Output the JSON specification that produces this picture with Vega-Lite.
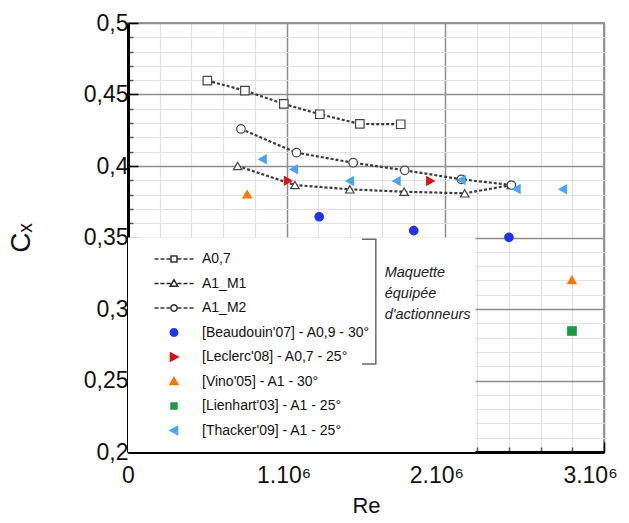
{
  "$schema": "https://vega.github.io/schema/vega-lite/v6.json",
  "width": 476,
  "height": 429,
  "autosize": {"type": "none"},
  "padding": {"left": 128, "top": 23, "right": 25, "bottom": 71},
  "background": "white",
  "config": {
    "view": {"stroke": "#9a9a9a", "strokeWidth": 2},
    "font": "Liberation Sans",
    "axis": {
      "zindex": 1,
      "labelFont": "Liberation Sans",
      "labelFontSize": 23,
      "labelColor": "#111",
      "titleFont": "Liberation Sans",
      "titleFontWeight": "normal",
      "titleColor": "#111",
      "domainColor": "#000",
      "domainWidth": 3,
      "tickWidth": 1.5,
      "labelOverlap": false,
      "labelFlush": false,
      "labelBound": false
    },
    "legend": {
      "title": null,
      "orient": "none",
      "legendX": 39,
      "legendY": 229,
      "padding": 0,
      "symbolSize": 100,
      "symbolOpacity": 1,
      "symbolStrokeWidth": 1.5,
      "labelOffset": 21,
      "labelFont": "Liberation Sans",
      "labelFontSize": 14,
      "labelColor": "#111",
      "labelLimit": 400,
      "rowPadding": 10.5
    }
  },
  "resolve": {"scale": {"shape": "independent", "fill": "independent", "stroke": "independent"}},
  "datasets": {
    "measures": [
      {"series": "A0,7", "Re": 500000, "Cx": 0.4597},
      {"series": "A0,7", "Re": 737000, "Cx": 0.4527},
      {"series": "A0,7", "Re": 982000, "Cx": 0.4434},
      {"series": "A0,7", "Re": 1209000, "Cx": 0.4362},
      {"series": "A0,7", "Re": 1461000, "Cx": 0.4294},
      {"series": "A0,7", "Re": 1719000, "Cx": 0.4292},
      {"series": "A1_M1", "Re": 691000, "Cx": 0.4},
      {"series": "A1_M1", "Re": 1052000, "Cx": 0.3867},
      {"series": "A1_M1", "Re": 1398000, "Cx": 0.3837},
      {"series": "A1_M1", "Re": 1740000, "Cx": 0.382},
      {"series": "A1_M1", "Re": 2122000, "Cx": 0.3809},
      {"series": "A1_M1", "Re": 2416000, "Cx": 0.3867},
      {"series": "A1_M2", "Re": 712000, "Cx": 0.4259},
      {"series": "A1_M2", "Re": 1062000, "Cx": 0.4093},
      {"series": "A1_M2", "Re": 1419000, "Cx": 0.4023},
      {"series": "A1_M2", "Re": 1744000, "Cx": 0.397},
      {"series": "A1_M2", "Re": 2101000, "Cx": 0.3907},
      {"series": "A1_M2", "Re": 2416000, "Cx": 0.3867},
      {"series": "[Beaudouin'07] - A0,9 - 30°", "Re": 1205000, "Cx": 0.3645},
      {"series": "[Beaudouin'07] - A0,9 - 30°", "Re": 1801000, "Cx": 0.3548},
      {"series": "[Beaudouin'07] - A0,9 - 30°", "Re": 2401000, "Cx": 0.3501},
      {"series": "[Leclerc'08] - A0,7 - 25°", "Re": 1009000, "Cx": 0.3897},
      {"series": "[Leclerc'08] - A0,7 - 25°", "Re": 1906000, "Cx": 0.3895},
      {"series": "[Vino'05] - A1 - 30°", "Re": 751000, "Cx": 0.3802},
      {"series": "[Vino'05] - A1 - 30°", "Re": 2798000, "Cx": 0.3203},
      {"series": "[Lienhart'03] - A1 - 25°", "Re": 2798000, "Cx": 0.2846},
      {"series": "[Thacker'09] - A1 - 25°", "Re": 848000, "Cx": 0.4047},
      {"series": "[Thacker'09] - A1 - 25°", "Re": 1045000, "Cx": 0.3977},
      {"series": "[Thacker'09] - A1 - 25°", "Re": 1398000, "Cx": 0.3895},
      {"series": "[Thacker'09] - A1 - 25°", "Re": 1692000, "Cx": 0.3895},
      {"series": "[Thacker'09] - A1 - 25°", "Re": 2101000, "Cx": 0.3902},
      {"series": "[Thacker'09] - A1 - 25°", "Re": 2448000, "Cx": 0.3839},
      {"series": "[Thacker'09] - A1 - 25°", "Re": 2741000, "Cx": 0.3837}
    ],
    "legendbox": [
      {"Re": 0, "Re2": 2190000, "Cx": 0.2, "Cx2": 0.35}
    ],
    "bracket": [
      {"k": 0, "Re": 1474000, "Cx": 0.3487},
      {"k": 1, "Re": 1562000, "Cx": 0.3487},
      {"k": 2, "Re": 1562000, "Cx": 0.2615},
      {"k": 3, "Re": 1474000, "Cx": 0.2615}
    ],
    "note": [
      {"Re": 1618000, "Cx": 0.3252, "text": "Maquette\néquipée\nd'actionneurs"}
    ]
  },
  "encoding": {
    "x": {
      "field": "Re",
      "type": "quantitative",
      "scale": {"domain": [0, 3000000], "nice": false, "zero": false},
      "axis": {
        "title": "Re",
        "titleFontSize": 22,
        "titlePadding": 3,
        "values": [0, 200000, 400000, 600000, 800000, 1000000, 1200000, 1400000, 1600000, 1800000, 2000000, 2200000, 2400000, 2600000, 2800000, 3000000],
        "labelExpr": "datum.value % 1000000 === 0 ? (datum.value === 0 ? '0' : (datum.value / 1000000) + '.10⁶') : ''",
        "labelPadding": 22,
        "labelOffset": {"condition": [{"test": "datum.value === 3000000", "value": -14}, {"test": "datum.value === 2000000", "value": -9}, {"test": "datum.value === 1000000", "value": -3}], "value": 0},
        "gridColor": {"condition": {"test": "datum.value % 1000000 === 0", "value": "#8e8e8e"}, "value": "#e2e2e2"},
        "gridWidth": {"condition": {"test": "datum.value % 1000000 === 0", "value": 1.5}, "value": 1.2},
        "tickSize": {"condition": {"test": "datum.value % 1000000 === 0", "value": -10}, "value": -5},
        "tickColor": {"condition": {"test": "datum.value % 1000000 === 0", "value": "#000"}, "value": "#555"}
      }
    },
    "y": {
      "field": "Cx",
      "type": "quantitative",
      "scale": {"domain": [0.2, 0.5], "nice": false, "zero": false},
      "axis": {
        "title": "Cₓ",
        "titleFontSize": 28,
        "titlePadding": 48,
        "values": [0.2, 0.21, 0.22, 0.23, 0.24, 0.25, 0.26, 0.27, 0.28, 0.29, 0.3, 0.31, 0.32, 0.33, 0.34, 0.35, 0.36, 0.37, 0.38, 0.39, 0.4, 0.41, 0.42, 0.43, 0.44, 0.45, 0.46, 0.47, 0.48, 0.49, 0.5],
        "labelExpr": "abs(datum.value * 20 - round(datum.value * 20)) < 0.001 ? replace(format(datum.value, '.2~f'), '.', ',') : ''",
        "labelPadding": 10,
        "gridColor": {"condition": {"test": "abs(datum.value * 20 - round(datum.value * 20)) < 0.001", "value": "#8e8e8e"}, "value": "#e2e2e2"},
        "gridWidth": {"condition": {"test": "abs(datum.value * 20 - round(datum.value * 20)) < 0.001", "value": 1.5}, "value": 1.2},
        "tickSize": {"condition": {"test": "abs(datum.value * 20 - round(datum.value * 20)) < 0.001", "value": -10}, "value": -5},
        "tickColor": {"condition": {"test": "abs(datum.value * 20 - round(datum.value * 20)) < 0.001", "value": "#000"}, "value": "#555"}
      }
    }
  },
  "layer": [
    {
      "data": {"name": "legendbox"},
      "mark": {"type": "rect", "fill": "white", "stroke": null},
      "encoding": {
        "x2": {"field": "Re2"},
        "y2": {"field": "Cx2"}
      }
    },
    {
      "data": {"name": "bracket"},
      "mark": {"type": "line", "color": "#6a6a6a", "strokeWidth": 1.5},
      "encoding": {
        "order": {"field": "k", "type": "quantitative"}
      }
    },
    {
      "data": {"name": "note"},
      "mark": {"type": "text", "align": "left", "baseline": "middle", "font": "Liberation Sans", "fontSize": 14.5, "fontStyle": "italic", "lineBreak": "\n", "lineHeight": 21, "color": "#222"},
      "encoding": {
        "text": {"field": "text"}
      }
    },
    {
      "data": {"name": "measures"},
      "transform": [{"filter": "datum.series === 'A0,7' || datum.series === 'A1_M1' || datum.series === 'A1_M2'"}],
      "mark": {"type": "line", "color": "#3a3a3a", "strokeWidth": 2.2, "strokeDash": [3, 2]},
      "encoding": {
        "detail": {"field": "series"}
      }
    },
    {
      "data": {"name": "measures"},
      "mark": {"type": "point", "filled": true, "size": 72, "strokeWidth": 1.2, "opacity": 1},
      "encoding": {
        "shape": {
          "field": "series",
          "type": "nominal",
          "legend": null,
          "scale": {
            "domain": ["A0,7", "A1_M1", "A1_M2", "[Beaudouin'07] - A0,9 - 30°", "[Leclerc'08] - A0,7 - 25°", "[Vino'05] - A1 - 30°", "[Lienhart'03] - A1 - 25°", "[Thacker'09] - A1 - 25°"],
            "range": ["square", "triangle-up", "circle", "circle", "triangle-right", "triangle-up", "square", "triangle-left"]
          }
        },
        "fill": {
          "field": "series",
          "type": "nominal",
          "legend": null,
          "scale": {
            "domain": ["A0,7", "A1_M1", "A1_M2", "[Beaudouin'07] - A0,9 - 30°", "[Leclerc'08] - A0,7 - 25°", "[Vino'05] - A1 - 30°", "[Lienhart'03] - A1 - 25°", "[Thacker'09] - A1 - 25°"],
            "range": ["white", "white", "white", "#2233ee", "#dd1111", "#ff7700", "#1a9a45", "#4aa5f2"]
          }
        },
        "stroke": {
          "field": "series",
          "type": "nominal",
          "legend": null,
          "scale": {
            "domain": ["A0,7", "A1_M1", "A1_M2", "[Beaudouin'07] - A0,9 - 30°", "[Leclerc'08] - A0,7 - 25°", "[Vino'05] - A1 - 30°", "[Lienhart'03] - A1 - 25°", "[Thacker'09] - A1 - 25°"],
            "range": ["#444", "#444", "#444", "#2233ee", "#dd1111", "#ff7700", "#1a9a45", "#4aa5f2"]
          }
        }
      }
    },
    {
      "data": {"name": "measures"},
      "mark": {"type": "point", "filled": true, "size": 100, "strokeWidth": 1.5, "opacity": 0},
      "encoding": {
        "shape": {
          "field": "series",
          "type": "nominal",
          "scale": {
            "domain": ["A0,7", "A1_M1", "A1_M2", "[Beaudouin'07] - A0,9 - 30°", "[Leclerc'08] - A0,7 - 25°", "[Vino'05] - A1 - 30°", "[Lienhart'03] - A1 - 25°", "[Thacker'09] - A1 - 25°"],
            "range": [
              "M-3.9,0L-3.1,0M-2.7,0L-1.9,0M-1.5,0L-0.65,0M0.65,0L1.5,0M1.9,0L2.7,0M3.1,0L3.9,0M-0.6,-0.6L0.6,-0.6L0.6,0.6L-0.6,0.6Z",
              "M-3.9,0L-3.1,0M-2.7,0L-1.9,0M-1.5,0L-0.65,0M0.65,0L1.5,0M1.9,0L2.7,0M3.1,0L3.9,0M0,-0.75L0.75,0.55L-0.75,0.55Z",
              "M-3.9,0L-3.1,0M-2.7,0L-1.9,0M-1.5,0L-0.65,0M0.65,0L1.5,0M1.9,0L2.7,0M3.1,0L3.9,0M0.65,0L0.56,0.325L0.325,0.56L0,0.65L-0.325,0.56L-0.56,0.325L-0.65,0L-0.56,-0.325L-0.325,-0.56L0,-0.65L0.325,-0.56L0.56,-0.325Z",
              "M0.75,0L0.65,0.375L0.375,0.65L0,0.75L-0.375,0.65L-0.65,0.375L-0.75,0L-0.65,-0.375L-0.375,-0.65L0,-0.75L0.375,-0.65L0.65,-0.375Z",
              "M-0.7,-0.8L0.8,0L-0.7,0.8Z",
              "M0,-0.8L0.8,0.6L-0.8,0.6Z",
              "M-0.6,-0.6L0.6,-0.6L0.6,0.6L-0.6,0.6Z",
              "M0.7,-0.8L-0.8,0L0.7,0.8Z"
            ]
          },
          "legend": {}
        },
        "fill": {
          "field": "series",
          "type": "nominal",
          "scale": {
            "domain": ["A0,7", "A1_M1", "A1_M2", "[Beaudouin'07] - A0,9 - 30°", "[Leclerc'08] - A0,7 - 25°", "[Vino'05] - A1 - 30°", "[Lienhart'03] - A1 - 25°", "[Thacker'09] - A1 - 25°"],
            "range": ["white", "white", "white", "#2233ee", "#dd1111", "#ff7700", "#1a9a45", "#4aa5f2"]
          },
          "legend": {}
        },
        "stroke": {
          "field": "series",
          "type": "nominal",
          "scale": {
            "domain": ["A0,7", "A1_M1", "A1_M2", "[Beaudouin'07] - A0,9 - 30°", "[Leclerc'08] - A0,7 - 25°", "[Vino'05] - A1 - 30°", "[Lienhart'03] - A1 - 25°", "[Thacker'09] - A1 - 25°"],
            "range": ["#333", "#222", "#333", "#2233ee", "#dd1111", "#ff7700", "#1a9a45", "#4aa5f2"]
          },
          "legend": {}
        }
      }
    }
  ]
}
